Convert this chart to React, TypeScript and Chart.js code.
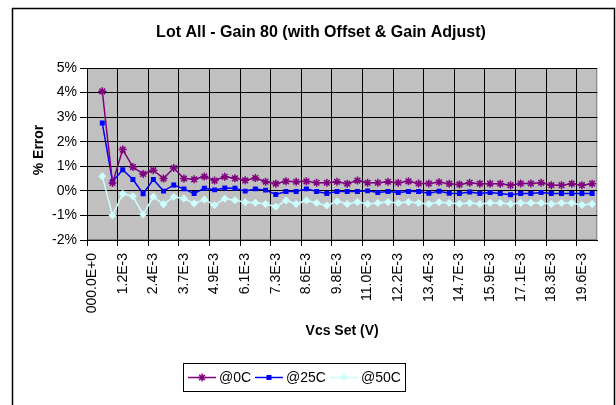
import React, { useEffect, useRef } from 'react';
import { Chart, registerables } from 'chart.js';

Chart.register(...registerables);

const FONT = '"Liberation Sans", Arial, sans-serif';

const chartTitle = 'Lot All - Gain 80 (with Offset & Gain Adjust)';
const xTitle = 'Vcs Set (V)';
const yTitle = '% Error';

const categories = [
  '000.0E+0', '407.4E-6', '814.8E-6', '1.2E-3', '1.6E-3', '2.0E-3', '2.4E-3', '2.9E-3', '3.3E-3', '3.7E-3',
  '4.1E-3', '4.5E-3', '4.9E-3', '5.3E-3', '5.7E-3', '6.1E-3', '6.5E-3', '6.9E-3', '7.3E-3', '7.7E-3',
  '8.1E-3', '8.6E-3', '9.0E-3', '9.4E-3', '9.8E-3', '10.2E-3', '10.6E-3', '11.0E-3', '11.4E-3', '11.8E-3',
  '12.2E-3', '12.6E-3', '13.0E-3', '13.4E-3', '13.9E-3', '14.3E-3', '14.7E-3', '15.1E-3', '15.5E-3', '15.9E-3',
  '16.3E-3', '16.7E-3', '17.1E-3', '17.5E-3', '17.9E-3', '18.3E-3', '18.7E-3', '19.1E-3', '19.6E-3', '20.0E-3',
];

const series0C = [
  null, 4.05, 0.32, 1.68, 0.97, 0.69, 0.84, 0.50, 0.93, 0.50,
  0.47, 0.58, 0.42, 0.57, 0.51, 0.43, 0.52, 0.37, 0.29, 0.39,
  0.37, 0.39, 0.33, 0.33, 0.37, 0.29, 0.42, 0.33, 0.33, 0.37,
  0.33, 0.39, 0.30, 0.30, 0.35, 0.29, 0.26, 0.33, 0.29, 0.29,
  0.29, 0.23, 0.30, 0.30, 0.33, 0.23, 0.23, 0.29, 0.23, 0.29,
];

const series25C = [
  null, 2.76, 0.38, 0.86, 0.46, -0.12, 0.46, -0.01, 0.24, 0.08,
  -0.11, 0.11, 0.04, 0.12, 0.11, -0.01, 0.08, 0.03, -0.15, -0.03,
  -0.03, 0.08, -0.03, -0.11, -0.03, -0.03, -0.03, 0.0, -0.07, -0.03,
  -0.07, -0.03, -0.03, -0.10, -0.02, -0.10, -0.11, -0.05, -0.11, -0.07,
  -0.11, -0.16, -0.11, -0.11, -0.07, -0.11, -0.11, -0.11, -0.11, -0.11,
];

const series50C = [
  null, 0.59, -1.0, -0.12, -0.22, -0.96, -0.24, -0.55, -0.24, -0.31,
  -0.51, -0.35, -0.58, -0.32, -0.38, -0.46, -0.48, -0.53, -0.65, -0.39,
  -0.53, -0.39, -0.49, -0.60, -0.42, -0.53, -0.45, -0.53, -0.49, -0.45,
  -0.49, -0.45, -0.49, -0.53, -0.46, -0.49, -0.52, -0.49, -0.53, -0.49,
  -0.49, -0.53, -0.49, -0.49, -0.49, -0.53, -0.49, -0.49, -0.58, -0.53,
];

const seriesNames = ['@0C', '@25C', '@50C'];
const seriesColors = ['#800080', '#0000FF', '#CCFFFF'];

const yMin = -2;
const yMax = 5;
const yStep = 1;

function drawMarker(ctx: CanvasRenderingContext2D, kind: number, x: number, y: number, color: string) {
  ctx.save();
  ctx.strokeStyle = color;
  ctx.fillStyle = color;
  ctx.lineWidth = 1.5;
  if (kind === 0) {
    const r = 4;
    ctx.beginPath();
    ctx.moveTo(x - r, y); ctx.lineTo(x + r, y);
    ctx.moveTo(x, y - r); ctx.lineTo(x, y + r);
    const d = r * Math.SQRT1_2;
    ctx.moveTo(x - d, y - d); ctx.lineTo(x + d, y + d);
    ctx.moveTo(x - d, y + d); ctx.lineTo(x + d, y - d);
    ctx.stroke();
  } else if (kind === 1) {
    ctx.fillRect(x - 2.5, y - 2.5, 5, 5);
  } else {
    const r = 4;
    ctx.beginPath();
    ctx.moveTo(x, y - r); ctx.lineTo(x + r, y); ctx.lineTo(x, y + r); ctx.lineTo(x - r, y);
    ctx.closePath();
    ctx.fill();
  }
  ctx.restore();
}

const decorPlugin = {
  id: 'excelDecor',
  beforeDraw(chart: any) {
    const { ctx, chartArea } = chart;
    ctx.save();
    ctx.fillStyle = '#FFFFFF';
    ctx.fillRect(0, 0, chart.width, chart.height);
    ctx.fillStyle = '#C0C0C0';
    ctx.fillRect(chartArea.left, chartArea.top, chartArea.right - chartArea.left, chartArea.bottom - chartArea.top);
    ctx.strokeStyle = '#808080';
    ctx.lineWidth = 1;
    ctx.strokeRect(chartArea.left + 0.5, chartArea.top + 0.5, chartArea.right - chartArea.left - 1, chartArea.bottom - chartArea.top - 1);
    ctx.restore();
  },
  afterDraw(chart: any) {
    const { ctx, chartArea } = chart;
    ctx.save();
    // chart frame
    ctx.strokeStyle = '#000000';
    ctx.lineWidth = 1.5;
    ctx.strokeRect(12.5, 8.5, 602, 420);

    // title
    ctx.fillStyle = '#000000';
    ctx.textAlign = 'center';
    ctx.textBaseline = 'middle';
    ctx.font = `bold 16px ${FONT}`;
    ctx.fillText(chartTitle, 321, 33);

    // x axis title
    ctx.font = `bold 14px ${FONT}`;
    ctx.fillText(xTitle, (chartArea.left + chartArea.right) / 2, 331);

    // y axis title
    ctx.save();
    ctx.translate(39, 150);
    ctx.rotate(-Math.PI / 2);
    ctx.fillText(yTitle, 0, 0);
    ctx.restore();

    // legend
    const lx = 183, ly = 363, lw = 222, lh = 28;
    ctx.lineWidth = 1;
    ctx.strokeStyle = '#000000';
    ctx.strokeRect(lx + 0.5, ly + 0.5, lw, lh);
    const cy = ly + lh / 2 + 0.5;
    const lineStarts = [188, 255, 330];
    ctx.font = `14px ${FONT}`;
    ctx.textAlign = 'left';
    ctx.textBaseline = 'middle';
    seriesNames.forEach((name, i) => {
      const x0 = lineStarts[i];
      ctx.strokeStyle = seriesColors[i];
      ctx.lineWidth = 1.5;
      ctx.beginPath();
      ctx.moveTo(x0, cy);
      ctx.lineTo(x0 + 28, cy);
      ctx.stroke();
      drawMarker(ctx, i, x0 + 14, cy, seriesColors[i]);
      ctx.fillStyle = '#000000';
      ctx.fillText(name, x0 + 31, cy + 1);
    });
    ctx.restore();
  },
};

export default function App() {
  const canvasRef = useRef<HTMLCanvasElement | null>(null);

  useEffect(() => {
    const canvas = canvasRef.current;
    if (!canvas) return;
    const chart = new Chart(canvas, {
      type: 'line',
      data: {
        labels: categories,
        datasets: [
          {
            label: seriesNames[0],
            data: series0C,
            borderColor: seriesColors[0],
            backgroundColor: seriesColors[0],
            borderWidth: 1.5,
            pointStyle: 'star',
            pointRadius: 4,
            pointBorderWidth: 1.5,
            pointBorderColor: seriesColors[0],
            tension: 0,
          },
          {
            label: seriesNames[1],
            data: series25C,
            borderColor: seriesColors[1],
            backgroundColor: seriesColors[1],
            borderWidth: 1.5,
            pointStyle: 'rect',
            pointRadius: 3.5,
            pointBorderWidth: 0,
            tension: 0,
          },
          {
            label: seriesNames[2],
            data: series50C,
            borderColor: seriesColors[2],
            backgroundColor: seriesColors[2],
            borderWidth: 1.5,
            pointStyle: 'rectRot',
            pointRadius: 4,
            pointBorderWidth: 0,
            tension: 0,
          },
        ],
      },
      options: {
        animation: false,
        responsive: false,
        devicePixelRatio: 1,
        layout: { padding: { left: 0, top: 68, right: 8, bottom: 0 } },
        plugins: {
          legend: { display: false },
          title: { display: false },
          tooltip: { enabled: false },
        },
        scales: {
          x: {
            type: 'category',
            offset: true,
            afterFit: (scale: any) => { scale.height = 165; },
            grid: {
              offset: true,
              drawOnChartArea: true,
              color: (ctx: any) => (ctx.index % 3 === 0 ? '#000000' : 'rgba(0,0,0,0)'),
              lineWidth: 1,
              tickLength: 6,
            },
            border: { display: true, color: '#000000', width: 1 },
            ticks: {
              autoSkip: false,
              maxRotation: 90,
              minRotation: 90,
              padding: 7,
              color: '#000000',
              font: { family: FONT, size: 14 },
              callback: (_v: any, index: number) => (index % 3 === 0 ? categories[index] : ''),
            },
          },
          y: {
            min: yMin,
            max: yMax,
            afterFit: (scale: any) => { scale.width = 87; },
            grid: { color: '#000000', lineWidth: 1, tickLength: 7 },
            border: { display: true, color: '#000000', width: 1 },
            ticks: {
              stepSize: yStep,
              padding: 3,
              color: '#000000',
              font: { family: FONT, size: 14 },
              callback: (v: any) => `${v}%`,
            },
          },
        },
      },
      plugins: [decorPlugin],
    });
    return () => chart.destroy();
  }, []);

  return (
    <div style={{ position: 'absolute', left: 0, top: 0, width: 616, height: 405, background: '#fff' }}>
      <canvas ref={canvasRef} width={616} height={405} style={{ width: 616, height: 405, display: 'block' }} />
    </div>
  );
}
